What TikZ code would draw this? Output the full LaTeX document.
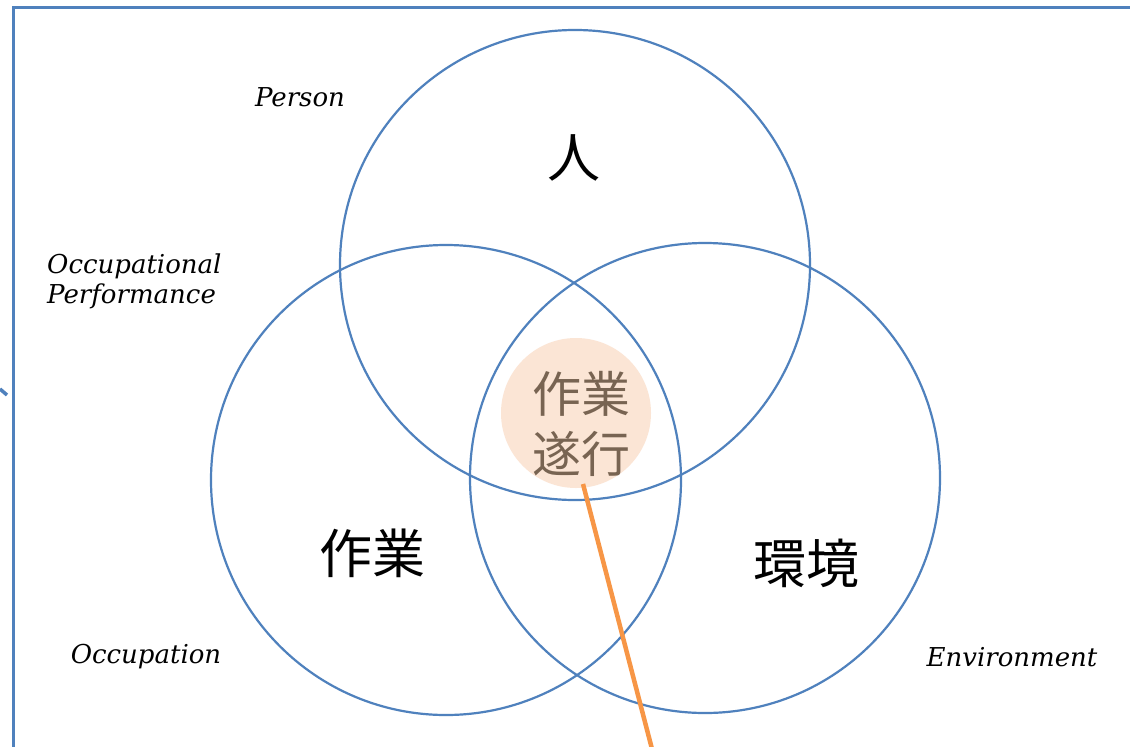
\documentclass[tikz,border=0pt]{standalone}
\usepackage{fontspec}
\usetikzlibrary{calc}
\newfontfamily\cjk{Noto Sans CJK JP}
\newfontfamily\lab{DejaVu Serif}
\definecolor{cblue}{HTML}{4F81BD}
\definecolor{peach}{HTML}{FBE5D5}
\definecolor{gtext}{HTML}{786452}
\definecolor{orng}{HTML}{F79646}
\tikzset{
  ring/.style={circle, draw=cblue, line width=2.2pt, minimum size=470pt, inner sep=0pt},
  labtext/.style={font=\lab\itshape\fontsize{26}{30}\selectfont, text=black, inner sep=0pt},
  cjktext/.style={font=\cjk\fontsize{53}{60}\selectfont, text=black, inner sep=0pt},
}
\begin{document}
\begin{tikzpicture}[x=1pt,y=-1pt]
\useasboundingbox (0,0) rectangle (1130,747);
\fill[white] (0,0) rectangle (1130,747);
% frame
\draw[cblue, line width=3pt] (13,748) coordinate (fa) -- (13,7) coordinate (fb) -- (1131,7) coordinate (fc);
\draw[cblue, line width=3.5pt] (0,389) coordinate (ma) -- (7,395) coordinate (mb);
% center highlight
\node[circle, fill=peach, minimum size=150pt, inner sep=0pt] (gp) at (576,413) {};
\node[font=\cjk\fontsize{49}{60}\selectfont, text=gtext, align=center, inner sep=0pt] (gt) at (581,424) {作業\\遂行};
% rings
\node[ring] (P) at (575,265) {};
\node[ring] (O) at (446,480) {};
\node[ring] (E) at (705,478) {};
% connector
\coordinate (lend) at (652,749);
\draw[orng, line width=4.5pt] ($(gp.center)+(7,71)$) coordinate (lstart) -- (lend);
% ring texts
\node[cjktext] (tP) at (574,158) {人};
\node[cjktext] (tO) at (372,553) {作業};
\node[cjktext] (tE) at (806,563) {環境};
% labels
\node[labtext] (lP) at (300,97) {Person};
\node[labtext, align=left, anchor=west] (lOP) at (47,281) {Occupational\\Performance};
\node[labtext] (lO) at (146,657) {Occupation};
\node[labtext] (lE) at (1012,657) {Environment};
\end{tikzpicture}
\end{document}
